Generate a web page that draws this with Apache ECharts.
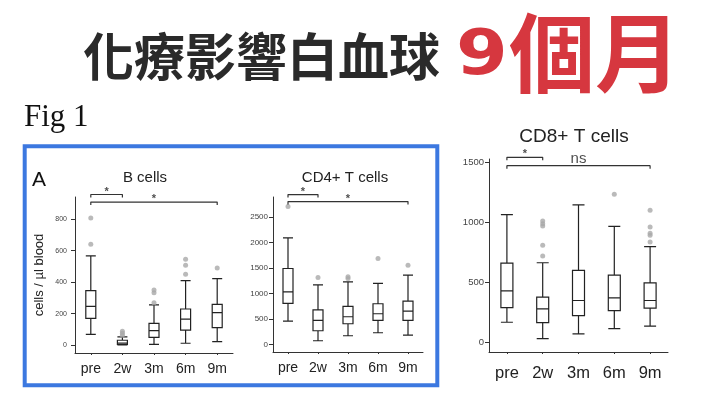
<!DOCTYPE html>
<html><head><meta charset="utf-8">
<script src="https://cdn.jsdelivr.net/npm/echarts@6/dist/echarts.min.js"></script>
<style>html,body{margin:0;padding:0;background:#fff}#c{width:720px;height:400px}</style>
</head><body><div id="c"></div>
<script>
const categories = ['pre', '2w', '3m', '6m', '9m'];
// box values: [min, Q1, median, Q3, max]
const bCellsBox = [[68,170,246,346,567],[0,3,12,30,52],[4,49,91,138,255],[11,95,164,229,410],[21,110,206,259,422]];
const bCellsOutliers = [['pre',808],['pre',641],['2w',62],['2w',75],['2w',88],['3m',269],['3m',333],['3m',350],['6m',450],['6m',507],['6m',545],['9m',490]];
const cd4Box = [[463,809,1038,1495,2095],[78,274,476,685,1175],[176,411,548,750,1234],[235,476,607,803,1201],[189,476,659,855,1364]];
const cd4Outliers = [['pre',2709],['2w',1318],['3m',1299],['3m',1331],['6m',1690],['9m',1560]];
const cd8Box = [[165,288,428,660,1066],[28,162,277,375,663],[67,221,347,599,1147],[112,263,369,560,968],[132,283,347,495,797]];
const cd8Outliers = [['2w',719],['2w',809],['2w',971],['2w',990],['2w',1013],['6m',1237],['9m',837],['9m',893],['9m',909],['9m',962],['9m',1102]];
const bCellsTicks = [0, 200, 400, 600, 800];
const cd4Ticks = [0, 500, 1000, 1500, 2000, 2500];
const cd8Ticks = [0, 500, 1000, 1500];
// significance brackets: [fromIndex, toIndex, height, label]
const bCellsSig = [[0,1,958,'*'],[0,4,910,'*']];
const cd4Sig = [[0,1,2944,'*'],[0,4,2807,'*']];
const cd8Sig = [[0,1,1545,'*'],[0,4,1475,'ns']];

const FONT = 'Liberation Sans';
const panels = [
  {title:'B cells', box:bCellsBox, out:bCellsOutliers, ticks:bCellsTicks, sig:bCellsSig,
   grid:{left:75, top:197, width:158, height:156}, min:-51, max:942, boxW:10,
   tickFont:7, tickMargin:8, catFont:14, catMargin:9, yName:'cells / µl blood'},
  {title:'CD4+ T cells', box:cd4Box, out:cd4Outliers, ticks:cd4Ticks, sig:cd4Sig,
   grid:{left:273, top:197, width:150, height:155}, min:-143, max:2897, boxW:10,
   tickFont:8, tickMargin:5, catFont:14, catMargin:9, yName:''},
  {title:'CD8+ T cells', box:cd8Box, out:cd8Outliers, ticks:cd8Ticks, sig:cd8Sig,
   grid:{left:489, top:159, width:179, height:193}, min:-84, max:1531, boxW:12,
   tickFont:9.5, tickMargin:5, catFont:16.5, catMargin:13, yName:''}
];

const grid = [], xAxis = [], yAxis = [], series = [];
panels.forEach((p, i) => {
  grid.push(Object.assign({containLabel:false}, p.grid));
  xAxis.push({
    type:'category', gridIndex:i, data:categories, boundaryGap:true,
    axisLine:{onZero:false, lineStyle:{color:'#333', width:1}},
    axisTick:{show:true, alignWithLabel:true, length:2, lineStyle:{color:'#333'}},
    axisLabel:{fontSize:p.catFont, color:'#222', margin:p.catMargin, fontFamily:FONT},
    splitLine:{show:false}
  });
  yAxis.push({
    type:'value', gridIndex:i, min:p.min, max:p.max,
    name:p.yName, nameLocation:'middle', nameGap:29,
    nameTextStyle:{fontSize:13, color:'#222', fontFamily:FONT},
    axisLine:{show:true, onZero:false, lineStyle:{color:'#333', width:1}},
    axisTick:{show:true, length:4, customValues:p.ticks, lineStyle:{color:'#333'}},
    axisLabel:{customValues:p.ticks, formatter:v => String(v), fontSize:p.tickFont,
      color:'#444', margin:p.tickMargin, fontFamily:FONT},
    splitLine:{show:false}
  });
});
panels.forEach((p, i) => {
  xAxis.push({type:'value', gridIndex:i, min:-0.5, max:4.5, show:false,
    axisLine:{onZero:false}});
});
panels.forEach((p, i) => {
  series.push({
    type:'boxplot', xAxisIndex:i, yAxisIndex:i, data:p.box, boxWidth:[p.boxW, p.boxW],
    itemStyle:{color:'#fff', borderColor:'#222', borderWidth:1.2}, silent:true
  });
  series.push({
    type:'scatter', xAxisIndex:i, yAxisIndex:i, data:p.out, symbolSize:5,
    itemStyle:{color:'#a9a9a9'}, silent:true
  });
  const drop = 3 * (p.max - p.min) / p.grid.height;
  p.sig.forEach(s => {
    const [a, b, h, lab] = s;
    series.push({
      type:'line', xAxisIndex:3 + i, yAxisIndex:i, clip:false, symbol:'none', silent:true,
      lineStyle:{color:'#333', width:1.2},
      data:[[a, h - drop], [a, h], [b, h], [b, h - drop]]
    });
    series.push({
      type:'scatter', xAxisIndex:3 + i, yAxisIndex:i, clip:false, symbolSize:0, silent:true,
      data:[[(a + b) / 2, h]],
      label:{show:true, formatter:lab, position:'inside',
        offset: lab === '*' ? [0, -3] : [0, -7],
        fontSize: lab === '*' ? 11 : 15, fontWeight: lab === '*' ? 'bold' : 'normal',
        color:'#222', fontFamily:FONT}
    });
  });
});

function txt(x, y, text, font, fill, align, extra) {
  return Object.assign({type:'text', x:x, y:y, silent:true,
    style:{text:text, font:font, fill:fill, align:align, textAlign:align,
      verticalAlign:'middle', textVerticalAlign:'middle'}}, extra || {});
}

const graphic = [
  {type:'rect', silent:true, shape:{x:24.7, y:146.3, width:412.6, height:239},
   style:{fill:'none', stroke:'#3c78e0', lineWidth:4}},
  txt(83, 57, '化療影響白血球', 'bold 51px "Noto Sans CJK TC"', '#2a2a2a', 'left'),
  txt(456, 58, '9', 'bold 62px "DejaVu Sans"', '#d6373f', 'left', {scaleX:1.2}),
  txt(509, 53, '個月', 'bold 86px "Noto Sans CJK TC"', '#d6373f', 'left'),
  txt(24, 118, 'Fig 1', '31px "Liberation Serif"', '#111', 'left'),
  txt(32, 180.5, 'A', '21px "Liberation Sans"', '#111', 'left'),
  txt(145, 178.3, panels[0].title, '15px "Liberation Sans"', '#222', 'center'),
  txt(345, 178.3, panels[1].title, '15px "Liberation Sans"', '#222', 'center'),
  txt(574, 137, panels[2].title, '19px "Liberation Sans"', '#222', 'center')
];

const chart = echarts.init(document.getElementById('c'));
chart.setOption({
  animation:false, backgroundColor:'#fff',
  grid:grid, xAxis:xAxis, yAxis:yAxis, series:series, graphic:graphic
});
</script></body></html>
